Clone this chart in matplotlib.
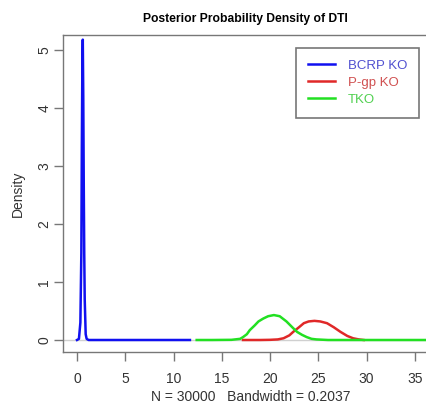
import matplotlib
matplotlib.use("Agg")
import matplotlib.pyplot as plt

plt.rcParams['font.family'] = ['Liberation Sans', 'DejaVu Sans']

title = "Posterior Probability Density of DTI"
xlabel = "N = 30000   Bandwidth = 0.2037"
ylabel = "Density"
series_names = ["BCRP KO", "P-gp KO", "TKO"]
colors = ["#1010f0", "#e02828", "#22e022"]

bcrp_x = [0.0, 0.2, 0.35, 0.45, 0.5, 0.55, 0.6, 0.65, 0.7, 0.75, 0.8, 0.9, 1.0, 1.2, 3.0, 6.0, 9.0, 11.7]
bcrp_y = [0.0, 0.02, 0.3, 1.5, 3.3, 4.6, 5.18, 4.2, 2.7, 1.5, 0.7, 0.1, 0.02, 0.0, 0.0, 0.0, 0.0, 0.0]

pgp_x = [17.2, 19.0, 20.0, 20.8, 21.4, 22.0, 22.4, 23.0, 23.5, 24.0, 24.6, 25.2, 25.9, 26.6, 27.3, 28.0, 28.6, 29.2, 29.7]
pgp_y = [0.0, 0.0, 0.003, 0.01, 0.03, 0.08, 0.14, 0.22, 0.29, 0.32, 0.33, 0.32, 0.29, 0.22, 0.14, 0.07, 0.03, 0.01, 0.0]

tko_x = [12.4, 14.0, 16.0, 16.9, 17.2, 17.6, 17.9, 18.4, 18.8, 19.3, 19.8, 20.4, 21.0, 21.7, 22.3, 22.8, 23.3, 23.8, 24.3, 24.8, 26.0, 30.0, 34.0, 38.0]
tko_y = [0.0, 0.0, 0.003, 0.02, 0.05, 0.1, 0.17, 0.25, 0.32, 0.37, 0.41, 0.43, 0.41, 0.32, 0.22, 0.14, 0.09, 0.05, 0.02, 0.01, 0.0, 0.0, 0.0, 0.0]

xticks = [0, 5, 10, 15, 20, 25, 30, 35]
yticks = [0, 1, 2, 3, 4, 5]

fig = plt.figure(figsize=(4.26, 4.08), dpi=100)
ax = fig.add_axes([63/426, 56/408, 375/426, 317/408])
ax.set_xlim(-1.45, 37.4)
ax.set_ylim(-0.207, 5.26)

ax.axhline(0, color="#d0d0d0", lw=1.0, zorder=1)
ax.plot(bcrp_x, bcrp_y, color=colors[0], lw=1.8, label=series_names[0], zorder=3)
ax.plot(pgp_x, pgp_y, color=colors[1], lw=1.8, label=series_names[1], zorder=3)
ax.plot(tko_x, tko_y, color=colors[2], lw=1.8, label=series_names[2], zorder=3)

for s in ax.spines.values():
    s.set_color("#777777")
    s.set_linewidth(1.0)

ax.set_xticks(xticks)
ax.set_yticks(yticks)
ax.set_xticklabels([str(v) for v in xticks], color="#333333", fontsize=10)
ax.set_yticklabels([str(v) for v in yticks], color="#333333", fontsize=10, rotation=90, va="center")
ax.tick_params(axis="both", direction="out", length=6.5, color="#777777", width=1.0)
ax.tick_params(axis="x", pad=8)
ax.tick_params(axis="y", pad=2)

ax.set_xlabel(xlabel, fontsize=10, color="#333333", labelpad=3)
ax.set_ylabel(ylabel, fontsize=10, color="#333333", labelpad=9)
fig.text(245/426, 1 - 19/408, title, ha="center", va="center", fontsize=8.7, fontweight="bold")

leg = ax.legend(loc="upper right", bbox_to_anchor=(419/426, 1 - 48/408), bbox_transform=fig.transFigure,
                frameon=True, fancybox=False, fontsize=9.5, handlelength=2.05, handletextpad=1.0,
                labelspacing=0.35, borderpad=0.9, borderaxespad=0)
leg.get_frame().set_edgecolor("#555555")
leg.get_frame().set_linewidth(1.2)
for t, c in zip(leg.get_texts(), ["#5050d0", "#d05050", "#50d050"]):
    t.set_color(c)

fig.savefig("out.png", dpi=100)
